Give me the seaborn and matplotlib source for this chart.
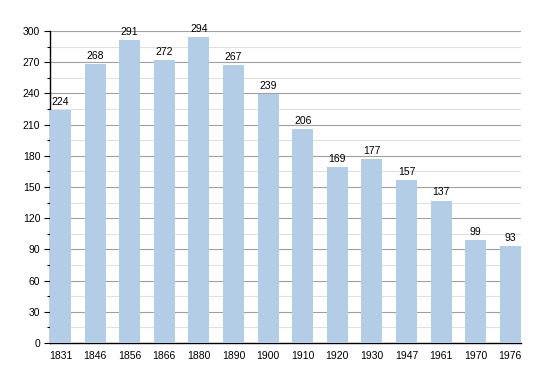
import matplotlib
matplotlib.use("Agg")
import matplotlib.pyplot as plt
from matplotlib.ticker import MultipleLocator
import seaborn as sns
import pandas as pd

years = ["1831", "1846", "1856", "1866", "1880", "1890", "1900",
         "1910", "1920", "1930", "1947", "1961", "1970", "1976"]
population = [224, 268, 291, 272, 294, 267, 239, 206, 169, 177, 157, 137, 99, 93]

df = pd.DataFrame({"year": years, "pop": population})

sns.set_style("white")
plt.rcParams["font.family"] = ["Liberation Sans", "DejaVu Sans"]
plt.rcParams["text.color"] = "black"
plt.rcParams["xtick.color"] = "black"
plt.rcParams["ytick.color"] = "black"

fig = plt.figure(figsize=(5.5, 3.73), dpi=100)
ax = fig.add_axes([0.0909, 0.0804, 0.856, 0.8365])

bar_w = 0.61
sns.barplot(data=df, x="year", y="pop", color="#b3cde6", saturation=1,
            width=bar_w, linewidth=0, ax=ax, zorder=3)

for i, v in enumerate(population):
    ax.text(i, v + 3, str(v), ha="center", va="bottom", fontsize=7.5,
            color="black", zorder=4)

ax.set_ylim(0, 300)
ax.set_xlim(-bar_w / 2, len(years) - 1 + bar_w / 2)
ax.yaxis.set_major_locator(MultipleLocator(30))
ax.yaxis.set_minor_locator(MultipleLocator(15))
ax.grid(axis="y", which="major", color="#a0a0a0", linewidth=0.8, zorder=0)
ax.grid(axis="y", which="minor", color="#e0e0e0", linewidth=0.8, zorder=0)
ax.set_axisbelow(True)

for s in ["top", "right"]:
    ax.spines[s].set_visible(False)
ax.spines["left"].set_color("black")
ax.spines["bottom"].set_color("black")
ax.spines["left"].set_linewidth(1)
ax.spines["bottom"].set_linewidth(1)

ax.tick_params(axis="y", which="major", left=True, length=4, width=0.8,
               labelsize=7.5, pad=3, colors="black")
ax.tick_params(axis="y", which="minor", left=True, length=2, width=0.8, colors="black")
ax.tick_params(axis="x", bottom=False, labelsize=7.5, pad=2, colors="black")
ax.set_xlabel("")
ax.set_ylabel("")

fig.savefig("out.png", dpi=100)
